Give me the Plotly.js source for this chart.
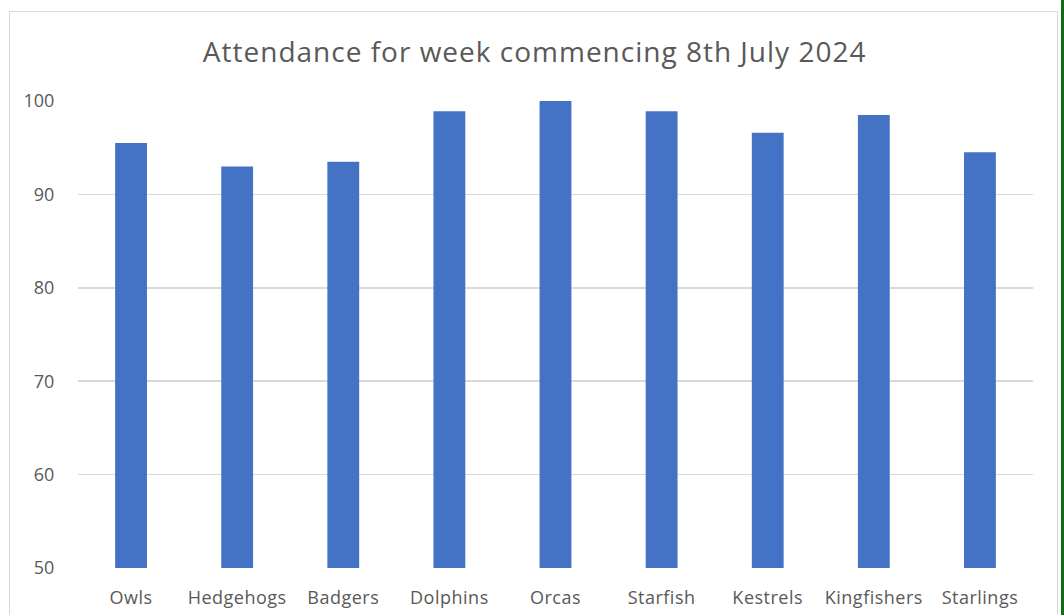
<!DOCTYPE html>
<html>
<head>
<meta charset="utf-8">
<script src="https://cdn.plot.ly/plotly-3.0.1.min.js"></script>
<style>
  html, body { margin: 0; padding: 0; background: #ffffff; overflow: hidden; }
  #wrap { position: relative; width: 1064px; height: 615px; }
  #frame { position: absolute; left: 9px; top: 11px; width: 1049px; height: 620px; border: 1.5px solid #d9d9d9; box-sizing: border-box; }
  #green { position: absolute; left: 1061px; top: 0; width: 3px; height: 615px; background: #0f6e12; }
  #chart { position: absolute; left: 0; top: 0; width: 1064px; height: 615px; }
  .gtitle { letter-spacing: 1px; }
  .xtick text { letter-spacing: 0.5px; }
</style>
</head>
<body>
<div id="wrap">
  <div id="frame"></div>
  <div id="green"></div>
  <div id="chart"></div>
</div>
<script>
const categories = ["Owls", "Hedgehogs", "Badgers", "Dolphins", "Orcas", "Starfish", "Kestrels", "Kingfishers", "Starlings"];
const attendance = [95.5, 93.0, 93.5, 98.9, 100, 98.9, 96.6, 98.5, 94.5];
const yTicks = [50, 60, 70, 80, 90, 100];
const chartTitle = "Attendance for week commencing 8th July 2024";

const trace = {
  type: "bar",
  x: categories,
  y: attendance,
  marker: { color: "#4472C4" },
  width: 0.3,
  hoverinfo: "x+y"
};

const layout = {
  width: 1064,
  height: 615,
  margin: { l: 78, r: 31, t: 101, b: 47, pad: 0 },
  paper_bgcolor: "rgba(0,0,0,0)",
  plot_bgcolor: "rgba(0,0,0,0)",
  showlegend: false,
  font: { family: "Open Sans, sans-serif", color: "#595959" },
  title: {
    text: chartTitle,
    font: { size: 28, color: "#595959", family: "Open Sans, sans-serif" },
    x: 0.5025, xanchor: "center",
    xref: "container",
    y: 1 - 52 / 615, yanchor: "middle", yref: "container"
  },
  xaxis: {
    type: "category",
    showgrid: false,
    zeroline: false,
    showline: false,
    ticks: "outside",
    ticklen: 13,
    tickcolor: "rgba(0,0,0,0)",
    tickfont: { size: 18, color: "#595959" }
  },
  yaxis: {
    range: [50, 100],
    tickvals: yTicks,
    showgrid: true,
    gridcolor: "#d9d9d9",
    gridwidth: 1.5,
    zeroline: false,
    showline: false,
    ticks: "outside",
    ticklen: 19,
    tickcolor: "rgba(0,0,0,0)",
    tickfont: { size: 18, color: "#595959" }
  }
};

Plotly.newPlot("chart", [trace], layout, { displayModeBar: false, staticPlot: true });
</script>
</body>
</html>
